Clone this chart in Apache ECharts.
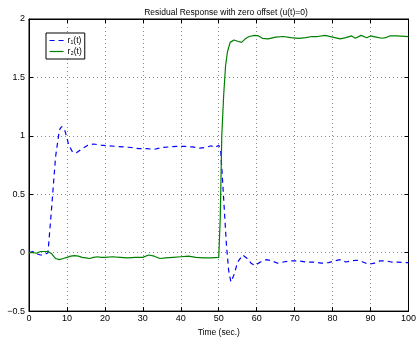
<!DOCTYPE html>
<html><head><meta charset="utf-8">
<script src="https://cdn.jsdelivr.net/npm/echarts@6/dist/echarts.min.js"></script>
<style>html,body{margin:0;padding:0;background:#fff}#c{width:419px;height:342px}</style>
</head><body><div id="c"></div>
<script>
const titleText = 'Residual Response with zero offset (u(t)=0)';
const xName = 'Time (sec.)';
const seriesNames = ['r\u2081(t)', 'r\u2082(t)'];
const r1Time = [0,1,2,3,4,5,6,7,8,8.6,9.5,10.5,11.5,12.5,14,15.5,17,19,21,23,25,27,29,31,33,35,37,39,41,43,45,46.5,48,49,50,50.5,51,51.5,52,52.6,53.2,54,55,56.3,57.5,58.5,59.5,61,62.5,64,65.5,67,69,71,73,75,77,79,80.5,82,83.5,85,86.5,88,89.5,91,92.5,94,95.5,97,99,100];
const r1Vals = [0,0.01,-0.01,-0.02,-0.02,0,0.4,0.82,1.05,1.08,1.04,0.92,0.86,0.855,0.89,0.92,0.93,0.92,0.915,0.91,0.905,0.9,0.89,0.89,0.885,0.9,0.905,0.91,0.91,0.905,0.895,0.9,0.915,0.9,0.92,0.88,0.62,0.35,0.08,-0.15,-0.25,-0.19,-0.08,-0.02,-0.05,-0.09,-0.11,-0.08,-0.06,-0.07,-0.09,-0.08,-0.07,-0.07,-0.08,-0.08,-0.09,-0.085,-0.07,-0.06,-0.08,-0.07,-0.065,-0.08,-0.1,-0.09,-0.07,-0.07,-0.08,-0.08,-0.085,-0.085];
const r2Time = [0,1,2,3,4,5,6,7,8,9,10,11,12,13,14,15,16,17,18,19,20,22,24,26,28,30,31.5,33,34.5,36,38,40,42,44,46,48,50,50.4,50.8,51.3,51.8,52.3,53,54,55,56,57,58,59.5,60.5,61.5,63,65,67,69,71,73,74.5,76,78,80,82,83.5,85,86,87.5,89,90,91.5,93,94,95,97,100];
const r2Vals = [0,0,-0.005,0.01,0.01,0.01,-0.01,-0.05,-0.06,-0.05,-0.04,-0.03,-0.025,-0.03,-0.04,-0.045,-0.05,-0.04,-0.035,-0.04,-0.04,-0.035,-0.04,-0.045,-0.04,-0.04,-0.02,-0.03,-0.05,-0.045,-0.04,-0.035,-0.03,-0.04,-0.045,-0.045,-0.04,0.3,1.0,1.35,1.6,1.72,1.8,1.82,1.81,1.8,1.83,1.85,1.86,1.855,1.835,1.83,1.845,1.85,1.84,1.835,1.84,1.85,1.85,1.86,1.845,1.83,1.84,1.855,1.835,1.86,1.84,1.855,1.845,1.835,1.84,1.855,1.855,1.85];

const zip = (a, b) => a.map((t, i) => [t, b[i]]);
const font = 'Liberation Sans, Arial, sans-serif';
const splitDotted = {show: true, lineStyle: {color: '#8c8c8c', type: [1, 3], width: 1}};
const baseAxis = {
  axisLine: {show: true, onZero: false, lineStyle: {color: '#000', width: 1}},
  axisTick: {show: true, inside: true, length: 4, lineStyle: {color: '#000'}},
};
const chart = echarts.init(document.getElementById('c'), null, {renderer: 'canvas'});
chart.setOption({
  animation: false,
  backgroundColor: '#fff',
  title: {text: titleText, left: 221, top: 3, textAlign: 'center',
    textStyle: {fontFamily: font, fontSize: 8.5, fontWeight: 'normal', color: '#000'}},
  grid: {left: 29, right: 8, top: 19, bottom: 26, show: true, borderColor: '#000', borderWidth: 1},
  legend: {
    orient: 'vertical', left: 46, top: 33, padding: [3, 3, 3, 3], itemGap: 2,
    itemWidth: 14, itemHeight: 8, borderColor: '#000', borderWidth: 1, backgroundColor: '#fff',
    itemStyle: {opacity: 0},
    lineStyle: {width: 1.2},
    textStyle: {fontFamily: font, fontSize: 8.5, color: '#000', padding: [0, 0, 0, -1]},
    data: seriesNames
  },
  xAxis: [
    Object.assign({}, baseAxis, {type: 'value', min: 0, max: 100, interval: 10,
      name: xName, nameLocation: 'middle', nameGap: 16,
      nameTextStyle: {fontFamily: font, fontSize: 8.5, color: '#000'},
      axisLabel: {fontFamily: font, fontSize: 9, color: '#000', margin: 3},
      splitLine: splitDotted}),
    Object.assign({}, baseAxis, {type: 'value', min: 0, max: 100, interval: 10, position: 'top',
      axisLabel: {show: false}, splitLine: {show: false}})
  ],
  yAxis: [
    Object.assign({}, baseAxis, {type: 'value', min: -0.5, max: 2, interval: 0.5,
      axisLabel: {fontFamily: font, fontSize: 9, color: '#000', margin: 4,
        formatter: v => (v < 0 ? '\u2212' + String(-v) : String(v))},
      splitLine: splitDotted}),
    Object.assign({}, baseAxis, {type: 'value', min: -0.5, max: 2, interval: 0.5, position: 'right',
      axisLabel: {show: false}, splitLine: {show: false}})
  ],
  series: [
    {name: seriesNames[0], type: 'line', data: zip(r1Time, r1Vals), showSymbol: false, symbol: 'none',
      lineStyle: {color: '#0000ff', width: 1.2, type: [5, 4]}, itemStyle: {color: '#0000ff'}, z: 3},
    {name: seriesNames[1], type: 'line', data: zip(r2Time, r2Vals), showSymbol: false, symbol: 'none',
      lineStyle: {color: '#008000', width: 1.2}, itemStyle: {color: '#008000'}, z: 4}
  ]
});
</script></body></html>
